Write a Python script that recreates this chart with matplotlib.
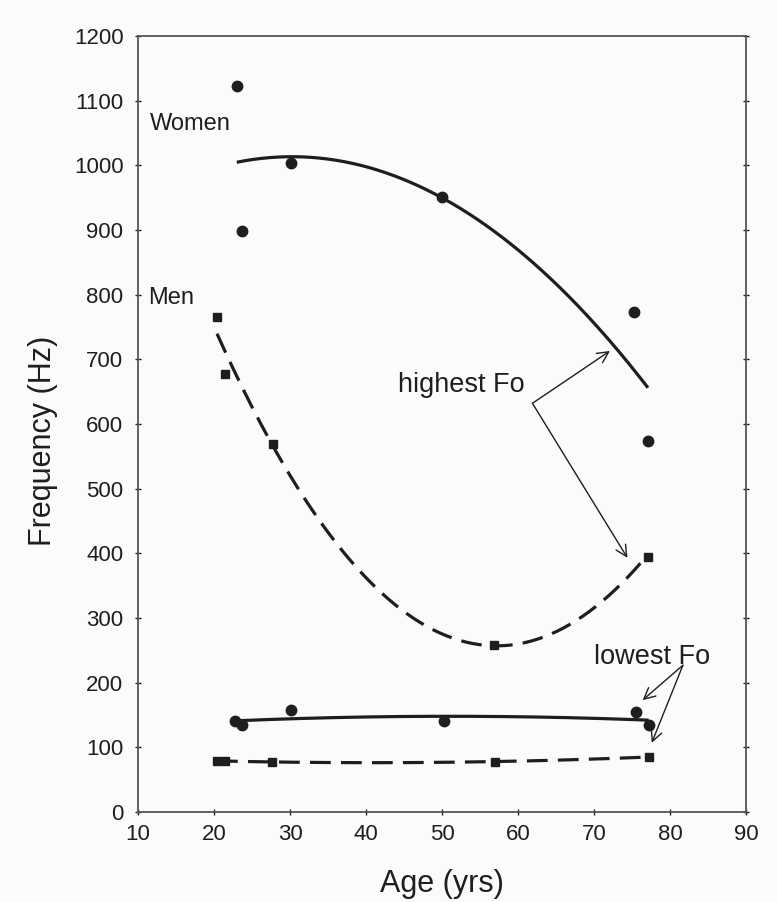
import matplotlib
matplotlib.use("Agg")
import matplotlib.pyplot as plt
import numpy as np

plt.rcParams["font.family"] = ["Liberation Sans", "DejaVu Sans"]

women_high_age = [23.0, 23.7, 30.1, 50.0, 75.2, 77.1]
women_high_hz = [1122, 898, 1003, 951, 773, 574]
men_high_age = [20.4, 21.5, 27.7, 56.8, 77.1]
men_high_hz = [765, 677, 569, 258, 394]
women_low_age = [22.8, 23.7, 30.1, 50.2, 75.5, 77.3]
women_low_hz = [141, 135, 157, 141, 154, 134]
men_low_age = [20.4, 21.4, 27.6, 57.0, 77.2]
men_low_hz = [79, 79, 77, 78, 85]

# readings along the fitted trend curves
women_high_fit_age = [23.0, 30.0, 50.0, 77.1]
women_high_fit_hz = [1005, 1013, 950, 656]
men_high_fit_age = [20.4, 27.7, 57.0, 77.1]
men_high_fit_hz = [741, 565, 258, 398]
women_low_fit_age = [22.8, 50.0, 77.2]
women_low_fit_hz = [141, 148, 142]
men_low_fit_age = [20.4, 57.0, 77.2]
men_low_fit_hz = [79, 78, 85]

INK = "#1e1e1e"


def trend(ax, xs, ys, ls):
    coef = np.polyfit(xs, ys, 2)
    xx = np.linspace(min(xs), max(xs), 200)
    line, = ax.plot(xx, np.polyval(coef, xx), color=INK, lw=2.3, ls=ls,
                    solid_capstyle="butt", dash_capstyle="butt")
    if ls == "--":
        line.set_dashes((6.5, 3.2))


fig = plt.figure(figsize=(7.77, 9.02), dpi=100)
fig.patch.set_facecolor("#fbfbfb")
ax = fig.add_axes([138 / 777, 1 - 812 / 902, 608 / 777, 776 / 902])
ax.set_facecolor("#fbfbfb")

trend(ax, women_high_fit_age, women_high_fit_hz, "-")
trend(ax, men_high_fit_age, men_high_fit_hz, "--")
trend(ax, women_low_fit_age, women_low_fit_hz, "-")
trend(ax, men_low_fit_age, men_low_fit_hz, "--")

ax.plot(women_high_age, women_high_hz, "o", color=INK, ms=7.5, ls="none")
ax.plot(women_low_age, women_low_hz, "o", color=INK, ms=7.5, ls="none")
ax.plot(men_high_age, men_high_hz, "s", color=INK, ms=6.2, ls="none")
ax.plot(men_low_age, men_low_hz, "s", color=INK, ms=6.2, ls="none")

ax.text(11.5, 1064, "Women", fontsize=17, color=INK, va="center")
ax.text(11.3, 795, "Men", fontsize=17, color=INK, va="center")
ax.text(44.2, 660, "highest Fo", fontsize=19.5, color=INK, va="center")
ax.text(70.0, 240, "lowest Fo", fontsize=19.5, color=INK, va="center")

arrow = dict(arrowstyle="->", color=INK, lw=1.0, shrinkA=0, shrinkB=0,
             mutation_scale=20)
ax.annotate("", xy=(72.1, 713), xytext=(61.9, 632), arrowprops=arrow)
ax.annotate("", xy=(74.4, 393), xytext=(61.9, 632), arrowprops=arrow)
ax.annotate("", xy=(76.4, 173), xytext=(81.7, 227), arrowprops=arrow)
ax.annotate("", xy=(77.6, 107), xytext=(81.7, 227), arrowprops=arrow)

ax.set_xlim(10, 90)
ax.set_ylim(0, 1200)
ax.set_xticks(np.arange(10, 91, 10))
ax.set_yticks(np.arange(0, 1201, 100))
ax.tick_params(axis="both", labelsize=16, colors=INK, direction="inout",
               length=5, width=1, pad=6)
ax.tick_params(axis="y", right=True, pad=8)
for s in ax.spines.values():
    s.set_color("#555555")
    s.set_linewidth(1.3)

ax.set_xlabel("Age (yrs)", fontsize=22, color=INK)
ax.set_ylabel("Frequency (Hz)", fontsize=22, color=INK)
ax.xaxis.set_label_coords(0.5, -0.073)
ax.yaxis.set_label_coords(-0.132, 0.478)

fig.savefig("out.png", dpi=100, facecolor=fig.get_facecolor())
